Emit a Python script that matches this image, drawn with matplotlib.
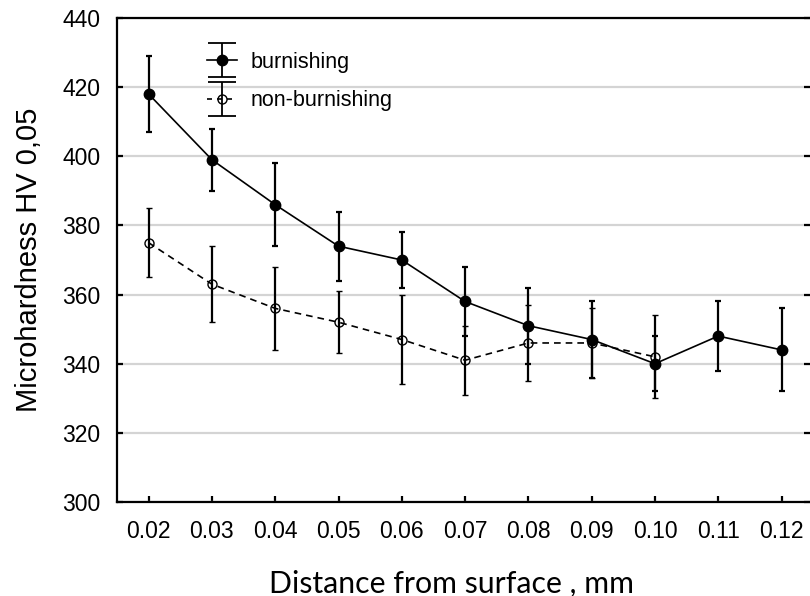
import numpy as np
import matplotlib.pyplot as plt
from matplotlib.path import Path
from matplotlib.lines import Line2D
from matplotlib.legend_handler import HandlerTuple

# distance from surface, mm
dist = [0.02, 0.03, 0.04, 0.05, 0.06, 0.07, 0.08, 0.09, 0.10, 0.11, 0.12]
dist_non = [0.02, 0.03, 0.04, 0.05, 0.06, 0.07, 0.08, 0.09, 0.10]

# microhardness HV 0,05
burn = [418, 399, 386, 374, 370, 358, 351, 347, 340, 348, 344]
burn_err = [11, 9, 12, 10, 8, 10, 11, 11, 8, 10, 12]
non_burn = [375, 363, 356, 352, 347, 341, 346, 346, 342]
non_burn_err = [10, 11, 12, 9, 13, 10, 11, 10, 12]

xticks = [0.02, 0.03, 0.04, 0.05, 0.06, 0.07, 0.08, 0.09, 0.10, 0.11, 0.12]
yticks = [300, 320, 340, 360, 380, 400, 420, 440]

plt.rcParams['font.family'] = ['Liberation Sans', 'DejaVu Sans']

fig = plt.figure(figsize=(8.1, 5.96), dpi=100)
ax = fig.add_axes([117 / 810, 94 / 596, 1 - 117 / 810, 484 / 596])

ax.errorbar(dist, burn, yerr=burn_err, color='black', lw=1.2, marker='o', ms=7.5,
            mfc='black', mec='black', elinewidth=1.6, capsize=2.2, capthick=1.6, zorder=3)
ax.errorbar(dist_non, non_burn, yerr=non_burn_err, color='black', lw=1.2, ls=(0, (4, 3)),
            marker='o', ms=6.5, mfc='none', mec='black', mew=1.0,
            elinewidth=1.6, capsize=2.2, capthick=1.6, zorder=3)

ax.set_xlim(0.015, 0.1245)
ax.set_ylim(300, 440)
ax.set_xticks(xticks)
ax.set_xticklabels(['%.2f' % v for v in xticks])
ax.set_yticks(yticks)
ax.yaxis.grid(True, color='#d4d4d4', lw=1.6)
ax.set_axisbelow(True)

for s in ['left', 'bottom', 'top']:
    ax.spines[s].set_linewidth(1.6)
ax.spines['right'].set_visible(False)
ax.tick_params(axis='both', direction='in', length=4, width=1.6, labelsize=16.5)
ax.tick_params(axis='y', right=True, pad=12)
ax.tick_params(axis='x', pad=13)

ax.set_ylabel('Microhardness HV 0,05', fontsize=21, labelpad=14)
ax.set_xlabel('Distance from surface , mm', fontsize=21.8, family=['Lato', 'DejaVu Sans'], labelpad=19)
ax.xaxis.label.set_x(0.482)

# legend handles: error bar symbol + line with marker
ibeam = Path([(-0.85, 1), (0.85, 1), (0, 1), (0, -1), (-0.85, -1), (0.85, -1)],
             [Path.MOVETO, Path.LINETO, Path.MOVETO, Path.LINETO, Path.MOVETO, Path.LINETO])
bar_h = Line2D([], [], ls='none', marker=ibeam, ms=24, mec='black', mew=1.3, mfc='none')
h1 = Line2D([], [], color='black', lw=1.2, marker='o', ms=7.5, mfc='black')
h2 = Line2D([], [], color='black', lw=1.2, ls=(0, (3, 3)), marker='o', ms=6.5, mfc='none')
bar_h2 = Line2D([], [], ls='none', marker=ibeam, ms=24, mec='black', mew=1.3, mfc='none')

ax.legend([(bar_h, h1), (bar_h2, h2)], ['burnishing', 'non-burnishing'],
          handler_map={tuple: HandlerTuple(ndivide=1, pad=0)},
          loc='upper left', bbox_to_anchor=(0.13, 0.93), frameon=False,
          fontsize=15.5, handlelength=1.4, handletextpad=0.6, labelspacing=0.8,
          borderpad=0, borderaxespad=0)

fig.savefig('out.png', dpi=100)
